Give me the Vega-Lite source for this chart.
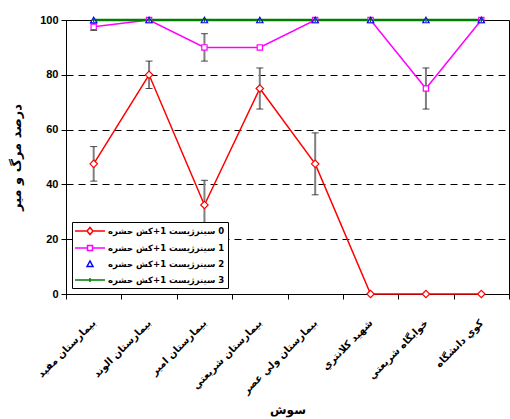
{
  "$schema": "https://vega.github.io/schema/vega-lite/v6.json",
  "width": 443,
  "height": 274,
  "autosize": {"type": "none"},
  "padding": {"left": 66, "top": 20, "right": 1, "bottom": 125},
  "background": "white",
  "config": {
    "view": {"stroke": "black", "strokeWidth": 1},
    "axis": {"labelFont": "Liberation Sans", "labelFontWeight": "bold", "labelColor": "black", "labelFontSize": 11, "domainColor": "black", "tickColor": "black", "titleColor": "black", "titleFontWeight": "bold"}
  },
  "data": {"values": [
    {"cat": "بيمارستان مفيد", "series": "\u2067حشره\u2069 \u2067کش\u2069+1 \u2067سینرژیست\u2069 0", "value": 47.5, "lo": 41.2, "hi": 53.8},
    {"cat": "بيمارستان الوند", "series": "\u2067حشره\u2069 \u2067کش\u2069+1 \u2067سینرژیست\u2069 0", "value": 80, "lo": 75, "hi": 85},
    {"cat": "بيمارستان امير", "series": "\u2067حشره\u2069 \u2067کش\u2069+1 \u2067سینرژیست\u2069 0", "value": 32.5, "lo": 23.5, "hi": 41.5},
    {"cat": "بيمارستان شريعتي", "series": "\u2067حشره\u2069 \u2067کش\u2069+1 \u2067سینرژیست\u2069 0", "value": 75, "lo": 67.5, "hi": 82.5},
    {"cat": "بيمارستان ولي عصر", "series": "\u2067حشره\u2069 \u2067کش\u2069+1 \u2067سینرژیست\u2069 0", "value": 47.5, "lo": 36.2, "hi": 58.8},
    {"cat": "شهيد کلانتري", "series": "\u2067حشره\u2069 \u2067کش\u2069+1 \u2067سینرژیست\u2069 0", "value": 0},
    {"cat": "خوابگاه شريعتي", "series": "\u2067حشره\u2069 \u2067کش\u2069+1 \u2067سینرژیست\u2069 0", "value": 0},
    {"cat": "کوي دانشگاه", "series": "\u2067حشره\u2069 \u2067کش\u2069+1 \u2067سینرژیست\u2069 0", "value": 0},
    {"cat": "بيمارستان مفيد", "series": "\u2067حشره\u2069 \u2067کش\u2069+1 \u2067سینرژیست\u2069 1", "value": 97.5, "lo": 96.2, "hi": 98.8},
    {"cat": "بيمارستان الوند", "series": "\u2067حشره\u2069 \u2067کش\u2069+1 \u2067سینرژیست\u2069 1", "value": 100},
    {"cat": "بيمارستان امير", "series": "\u2067حشره\u2069 \u2067کش\u2069+1 \u2067سینرژیست\u2069 1", "value": 90, "lo": 85, "hi": 95},
    {"cat": "بيمارستان شريعتي", "series": "\u2067حشره\u2069 \u2067کش\u2069+1 \u2067سینرژیست\u2069 1", "value": 90},
    {"cat": "بيمارستان ولي عصر", "series": "\u2067حشره\u2069 \u2067کش\u2069+1 \u2067سینرژیست\u2069 1", "value": 100},
    {"cat": "شهيد کلانتري", "series": "\u2067حشره\u2069 \u2067کش\u2069+1 \u2067سینرژیست\u2069 1", "value": 100},
    {"cat": "خوابگاه شريعتي", "series": "\u2067حشره\u2069 \u2067کش\u2069+1 \u2067سینرژیست\u2069 1", "value": 75, "lo": 67.5, "hi": 82.5},
    {"cat": "کوي دانشگاه", "series": "\u2067حشره\u2069 \u2067کش\u2069+1 \u2067سینرژیست\u2069 1", "value": 100},
    {"cat": "بيمارستان مفيد", "series": "\u2067حشره\u2069 \u2067کش\u2069+1 \u2067سینرژیست\u2069 2", "value": 100},
    {"cat": "بيمارستان الوند", "series": "\u2067حشره\u2069 \u2067کش\u2069+1 \u2067سینرژیست\u2069 2", "value": 100},
    {"cat": "بيمارستان امير", "series": "\u2067حشره\u2069 \u2067کش\u2069+1 \u2067سینرژیست\u2069 2", "value": 100},
    {"cat": "بيمارستان شريعتي", "series": "\u2067حشره\u2069 \u2067کش\u2069+1 \u2067سینرژیست\u2069 2", "value": 100},
    {"cat": "بيمارستان ولي عصر", "series": "\u2067حشره\u2069 \u2067کش\u2069+1 \u2067سینرژیست\u2069 2", "value": 100},
    {"cat": "شهيد کلانتري", "series": "\u2067حشره\u2069 \u2067کش\u2069+1 \u2067سینرژیست\u2069 2", "value": 100},
    {"cat": "خوابگاه شريعتي", "series": "\u2067حشره\u2069 \u2067کش\u2069+1 \u2067سینرژیست\u2069 2", "value": 100},
    {"cat": "کوي دانشگاه", "series": "\u2067حشره\u2069 \u2067کش\u2069+1 \u2067سینرژیست\u2069 2", "value": 100},
    {"cat": "بيمارستان مفيد", "series": "\u2067حشره\u2069 \u2067کش\u2069+1 \u2067سینرژیست\u2069 3", "value": 100},
    {"cat": "بيمارستان الوند", "series": "\u2067حشره\u2069 \u2067کش\u2069+1 \u2067سینرژیست\u2069 3", "value": 100},
    {"cat": "بيمارستان امير", "series": "\u2067حشره\u2069 \u2067کش\u2069+1 \u2067سینرژیست\u2069 3", "value": 100},
    {"cat": "بيمارستان شريعتي", "series": "\u2067حشره\u2069 \u2067کش\u2069+1 \u2067سینرژیست\u2069 3", "value": 100},
    {"cat": "بيمارستان ولي عصر", "series": "\u2067حشره\u2069 \u2067کش\u2069+1 \u2067سینرژیست\u2069 3", "value": 100},
    {"cat": "شهيد کلانتري", "series": "\u2067حشره\u2069 \u2067کش\u2069+1 \u2067سینرژیست\u2069 3", "value": 100},
    {"cat": "خوابگاه شريعتي", "series": "\u2067حشره\u2069 \u2067کش\u2069+1 \u2067سینرژیست\u2069 3", "value": 100},
    {"cat": "کوي دانشگاه", "series": "\u2067حشره\u2069 \u2067کش\u2069+1 \u2067سینرژیست\u2069 3", "value": 100}
  ]},
  "encoding": {
    "x": {
      "field": "cat", "type": "ordinal", "sort": null,
      "scale": {"type": "band", "paddingInner": 0, "paddingOuter": 0},
      "axis": {"title": "سوش", "titleFont": "DejaVu Sans", "titleFontSize": 12, "titlePadding": 9,
        "labelAngle": -45, "labelAlign": "right", "labelBaseline": "middle", "labelPadding": 22,
        "labelFont": "DejaVu Sans", "labelFontSize": 10, "labelLimit": 200,
        "tickBand": "extent", "tickSize": 5, "grid": false}
    },
    "y": {
      "field": "value", "type": "quantitative",
      "scale": {"domain": [0, 100], "nice": false},
      "axis": {"title": "درصد مرگ و مير", "titleFont": "DejaVu Sans", "titleFontSize": 13, "titlePadding": 16,
        "values": [0, 20, 40, 60, 80, 100], "tickSize": 5, "labelPadding": 3,
        "grid": true, "gridColor": "black", "gridDash": [7, 5], "gridWidth": 1}
    }
  },
  "layer": [
    {
      "mark": {"type": "line"},
      "encoding": {
        "color": {
          "field": "series", "type": "nominal",
          "scale": {"range": ["#FF0000", "#FF00FF", "#0000FF", "#008000"]},
          "legend": {
            "orient": "none", "legendX": 6, "legendY": 202, "title": null,
            "strokeColor": "black", "fillColor": "white", "padding": 3,
            "labelFont": "DejaVu Sans", "labelFontWeight": "bold", "labelFontSize": 8.5, "labelColor": "black", "labelLimit": 200,
            "symbolSize": 100, "symbolOffset": 9, "labelOffset": 12, "rowPadding": 4, "symbolStrokeWidth": 1.5,
            "encode": {"symbols": {"update": {
              "shape": {"signal": "{'0':'M-3,0H-0.6M0.6,0H3M-0.6,0L0,-0.7L0.6,0L0,0.7Z','1':'M-3,0H-0.5M0.5,0H3M-0.5,-0.5H0.5V0.5H-0.5Z','2':'M-0.6,0.5L0,-0.6L0.6,0.5Z','3':'M-3,0H3M0,-0.4V0.4'}[slice(datum.value,-1)]"},
              "fill": {"value": "white"},
              "fillOpacity": {"signal": "slice(datum.value,-1) == '3' ? 0 : 1"}
            }}}
          }
        },
        "strokeWidth": {"condition": {"test": "slice(datum.series,-1) == '3'", "value": 2.5}, "value": 1.5}
      }
    },
    {
      "transform": [{"filter": "isValid(datum.lo)"}],
      "mark": {"type": "rule", "color": "#7F7F7F", "strokeWidth": 2},
      "encoding": {"y": {"field": "lo", "type": "quantitative"}, "y2": {"field": "hi"}}
    },
    {
      "transform": [{"filter": "isValid(datum.lo)"}],
      "mark": {"type": "tick", "color": "black", "orient": "horizontal", "size": 7, "thickness": 1},
      "encoding": {"y": {"field": "lo", "type": "quantitative"}}
    },
    {
      "transform": [{"filter": "isValid(datum.lo)"}],
      "mark": {"type": "tick", "color": "black", "orient": "horizontal", "size": 7, "thickness": 1},
      "encoding": {"y": {"field": "hi", "type": "quantitative"}}
    },
    {
      "transform": [{"filter": "slice(datum.series,-1) == '0'"}],
      "mark": {"type": "point", "shape": "diamond", "size": 55, "filled": true, "fill": "white", "stroke": "#FF0000", "strokeWidth": 1.2, "opacity": 1}
    },
    {
      "transform": [{"filter": "slice(datum.series,-1) == '1'"}],
      "mark": {"type": "point", "shape": "square", "size": 28, "filled": true, "fill": "white", "stroke": "#FF00FF", "strokeWidth": 1.2, "opacity": 1}
    },
    {
      "transform": [{"filter": "slice(datum.series,-1) == '2'"}],
      "mark": {"type": "point", "shape": "triangle-up", "size": 40, "filled": true, "fill": "white", "stroke": "#0000FF", "strokeWidth": 1.2, "opacity": 1}
    },
    {
      "transform": [{"filter": "slice(datum.series,-1) == '3'"}],
      "mark": {"type": "point", "shape": "M-1,0H1M0,-1V1", "size": 16, "filled": false, "stroke": "#006400", "strokeWidth": 1.2, "opacity": 1}
    }
  ]
}
